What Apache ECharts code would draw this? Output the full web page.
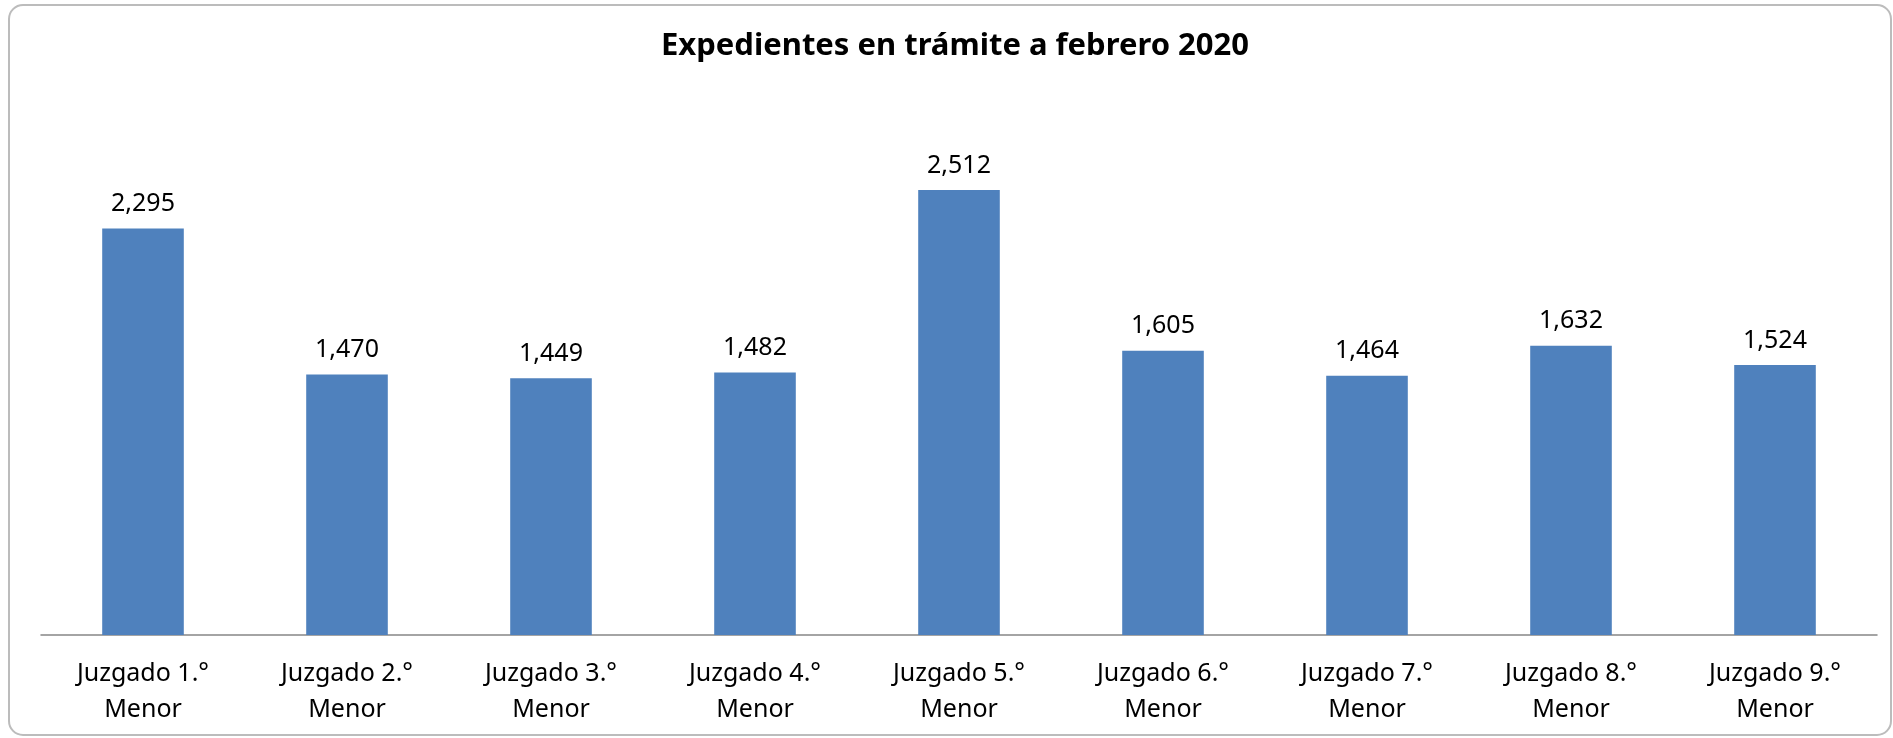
<!DOCTYPE html>
<html>
<head>
<meta charset="utf-8">
<script src="https://cdn.jsdelivr.net/npm/echarts@6/dist/echarts.min.js"></script>
<style>
html,body{margin:0;padding:0;background:#fff;}
#chart{width:1893px;height:738px;}
</style>
</head>
<body>
<div id="chart"></div>
<script>
const title = 'Expedientes en trámite a febrero 2020';
const categories = ['Juzgado 1.°\nMenor','Juzgado 2.°\nMenor','Juzgado 3.°\nMenor','Juzgado 4.°\nMenor','Juzgado 5.°\nMenor','Juzgado 6.°\nMenor','Juzgado 7.°\nMenor','Juzgado 8.°\nMenor','Juzgado 9.°\nMenor'];
const values = [2295, 1470, 1449, 1482, 2512, 1605, 1464, 1632, 1524];

const chart = echarts.init(document.getElementById('chart'));
chart.setOption({
  backgroundColor: '#ffffff',
  animation: false,
  graphic: [{
    type: 'rect',
    shape: {x: 9, y: 5, width: 1882, height: 730, r: 14},
    style: {fill: 'none', stroke: '#bcbcbc', lineWidth: 2},
    silent: true
  }],
  title: {
    text: title,
    left: 950,
    textAlign: 'center',
    top: 26,
    textStyle: {fontFamily: 'Noto Sans', fontWeight: 'bold', fontSize: 31, color: '#000'}
  },
  grid: {left: 41, right: 16, top: 103.5, bottom: 103, containLabel: false},
  xAxis: {
    type: 'category',
    data: categories,
    axisLine: {lineStyle: {color: '#868686', width: 1.5}},
    axisTick: {show: false},
    axisLabel: {
      margin: 21,
      fontFamily: 'Noto Sans',
      fontSize: 25,
      lineHeight: 36,
      color: '#000',
      interval: 0
    }
  },
  yAxis: {
    type: 'value',
    min: 0,
    max: 3000,
    interval: 500,
    show: false,
    splitLine: {show: false}
  },
  series: [{
    type: 'bar',
    data: values,
    barWidth: '40%',
    itemStyle: {color: '#4f81bd'},
    label: {
      show: true,
      position: 'top',
      distance: 12,
      fontFamily: 'Noto Sans',
      fontSize: 25,
      color: '#000',
      formatter: p => p.value.toLocaleString('en-US')
    }
  }]
});
</script>
</body>
</html>
